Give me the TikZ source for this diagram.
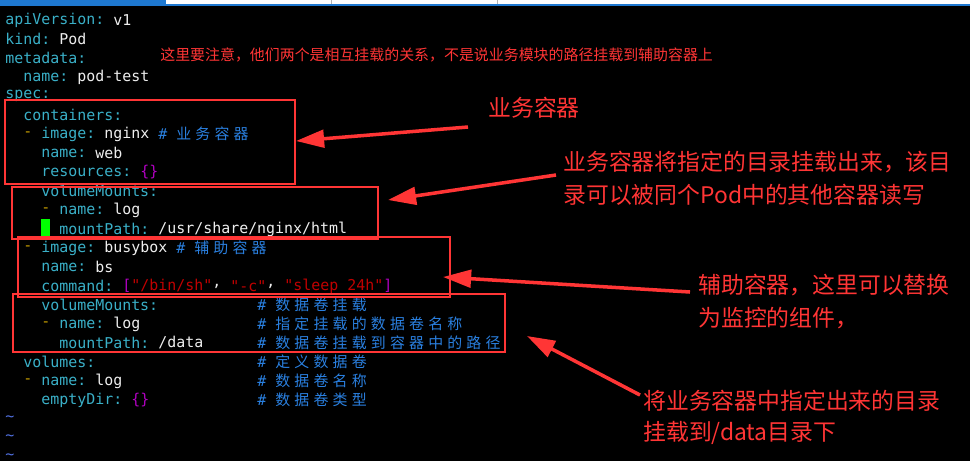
\documentclass[tikz,border=0pt]{standalone}
\usepackage{fontspec}
\usetikzlibrary{arrows.meta}
\newfontfamily\monof{DejaVu Sans Mono}
\newfontfamily\cjkmono[LetterSpace=28]{Noto Sans CJK SC}
\newfontfamily\cjk{Noto Sans CJK SC}
\definecolor{keyc}{HTML}{3AB0C8}
\definecolor{valc}{HTML}{EEEEEE}
\definecolor{dashc}{HTML}{C8A000}
\definecolor{magc}{HTML}{B000C0}
\definecolor{strc}{HTML}{C00000}
\definecolor{comc}{HTML}{2A80E0}
\definecolor{tilc}{HTML}{5070E0}
\definecolor{annc}{HTML}{FF3535}
\definecolor{barc}{HTML}{1E78D0}
\tikzset{
  code/.style={anchor=west,inner sep=0pt,font=\monof\fontsize{8.5pt}{10pt}\selectfont},
  ccode/.style={anchor=west,inner sep=0pt,font=\cjkmono\fontsize{8.5pt}{10pt}\selectfont,text=comc},
  box/.style={draw=annc,line width=0.6pt},
  ann/.style={anchor=west,inner sep=0pt,text=annc,font=\cjk\fontsize{13pt}{15pt}\selectfont},
  arr/.style={draw=annc,fill=annc,line width=2pt,-{Triangle[length=16pt,width=10pt]}},
}
\newcommand\cl[4]{\node[code,text=#3] at ({5+9*#1},{20+19*(#2-1)}) {#4};}
\newcommand\cmt[3]{\node[code,text=comc] at ({5+9*#1},{20+19*(#2-1)}) {\#};\node[ccode] at ({5+9*(#1+2)},{20+19*(#2-1)}) {#3};}
\begin{document}
\begin{tikzpicture}[x=0.02cm,y=-0.02cm]
\fill[black] (0,0) rectangle (970,461);
\useasboundingbox (0,0) rectangle (970,461);
\fill[barc] (0,0) rectangle (970,6);
\fill[white] (166,0) rectangle (970,4);
\draw[gray!60] (331,0) -- (331,4) (497,0) -- (497,4);
% code
\cl{0}{1}{keyc}{apiVersion:} \cl{12}{1}{valc}{v1}
\cl{0}{2}{keyc}{kind:} \cl{6}{2}{valc}{Pod}
\cl{0}{3}{keyc}{metadata:}
\cl{2}{4}{keyc}{name:} \cl{8}{4}{valc}{pod-test}
\cl{0}{5}{keyc}{spec:}
\cl{2}{6}{keyc}{containers:}
\cl{2}{7}{dashc}{-} \cl{4}{7}{keyc}{image:} \cl{11}{7}{valc}{nginx} \cmt{17}{7}{业务容器}
\cl{4}{8}{keyc}{name:} \cl{10}{8}{valc}{web}
\cl{4}{9}{keyc}{resources:} \cl{15}{9}{magc}{\{\}}
\cl{4}{10}{keyc}{volumeMounts:}
\cl{4}{11}{dashc}{-} \cl{6}{11}{keyc}{name:} \cl{12}{11}{valc}{log}
\fill[green] (41,219) rectangle (50,239);
\cl{6}{12}{keyc}{mountPath:} \cl{17}{12}{valc}{/usr/share/nginx/html}
\cl{2}{13}{dashc}{-} \cl{4}{13}{keyc}{image:} \cl{11}{13}{valc}{busybox} \cmt{19}{13}{辅助容器}
\cl{4}{14}{keyc}{name:} \cl{10}{14}{valc}{bs}
\cl{4}{15}{keyc}{command:} \cl{13}{15}{magc}{[} \cl{14}{15}{strc}{"/bin/sh"} \cl{23}{15}{valc}{,}
\cl{25}{15}{strc}{"-c"} \cl{29}{15}{valc}{,} \cl{31}{15}{strc}{"sleep 24h"} \cl{42}{15}{magc}{]}
\cl{4}{16}{keyc}{volumeMounts:} \cmt{28}{16}{数据卷挂载}
\cl{4}{17}{dashc}{-} \cl{6}{17}{keyc}{name:} \cl{12}{17}{valc}{log} \cmt{28}{17}{指定挂载的数据卷名称}
\cl{6}{18}{keyc}{mountPath:} \cl{17}{18}{valc}{/data} \cmt{28}{18}{数据卷挂载到容器中的路径}
\cl{2}{19}{keyc}{volumes:} \cmt{28}{19}{定义数据卷}
\cl{2}{20}{dashc}{-} \cl{4}{20}{keyc}{name:} \cl{10}{20}{valc}{log} \cmt{28}{20}{数据卷名称}
\cl{4}{21}{keyc}{emptyDir:} \cl{14}{21}{magc}{\{\}} \cmt{28}{21}{数据卷类型}
\cl{0}{22}{tilc}{\textasciitilde} \cl{0}{23}{tilc}{\textasciitilde} \cl{0}{24}{tilc}{\textasciitilde}
% boxes
\draw[box] (5,100) rectangle (295,184);
\draw[box] (12,187) rectangle (378,239);
\draw[box] (18,237) rectangle (450,297);
\draw[box] (13,294) rectangle (505,352);
\coordinate (b1) at (296,141);
\coordinate (b2) at (388,200);
\coordinate (b3) at (443,277);
\coordinate (b4) at (527,336);
% annotations
\node[ann,font=\cjk\fontsize{8.5pt}{10pt}\selectfont] (n0) at (160,55) {这里要注意，他们两个是相互挂载的关系，不是说业务模块的路径挂载到辅助容器上};
\node[ann] (n1) at (488,108) {业务容器};
\node[ann] (n2) at (563,162) {业务容器将指定的目录挂载出来，该目};
\node[ann] (n2b) at (563,195) {录可以被同个Pod中的其他容器读写};
\node[ann] (n3) at (698,285) {辅助容器，这里可以替换};
\node[ann] (n3b) at (698,318) {为监控的组件，};
\node[ann] (n4) at (643,401) {将业务容器中指定出来的目录};
\node[ann] (n4b) at (643,433) {挂载到/data目录下};
\coordinate (a1) at (468,127);
\coordinate (a2) at (556,175);
\coordinate (a3) at (690,292);
\coordinate (a4) at (640,395);
\draw[arr] (a1) -- (b1);
\draw[arr] (a2) -- (b2);
\draw[arr] (a3) -- (b3);
\draw[arr] (a4) -- (b4);
\end{tikzpicture}
\end{document}
